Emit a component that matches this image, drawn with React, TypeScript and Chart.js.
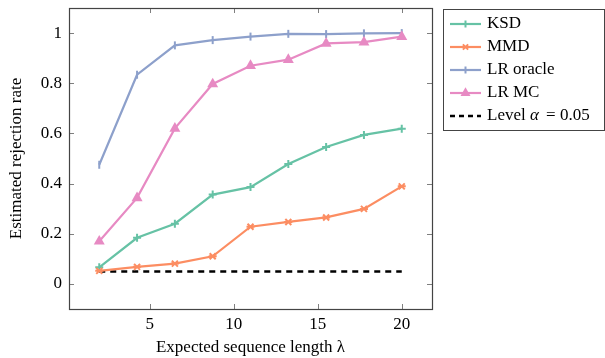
import React, { useEffect, useRef } from "react";
import { Chart, registerables } from "chart.js";

Chart.register(...registerables);

const lambdas = [2, 4.25, 6.5, 8.75, 11, 13.25, 15.5, 17.75, 20];
const ksd = [0.066, 0.184, 0.24, 0.356, 0.386, 0.478, 0.546, 0.594, 0.619];
const mmd = [0.052, 0.068, 0.081, 0.11, 0.228, 0.247, 0.265, 0.299, 0.389];
const lrOracle = [0.475, 0.834, 0.951, 0.972, 0.986, 0.997, 0.996, 0.999, 1.0];
const lrMC = [0.17, 0.343, 0.62, 0.797, 0.87, 0.894, 0.959, 0.964, 0.986];
const levelAlpha = 0.05;
const levelRange = [2, 20];
const xTicks = [5, 10, 15, 20];
const yTicks = [0, 0.2, 0.4, 0.6, 0.8, 1];
const seriesNames = ["KSD", "MMD", "LR oracle", "LR MC", "Level α = 0.05"];

const COLORS = ["#66c2a5", "#fc8d62", "#8da0cb", "#e78ac3", "#000000"];
const FONT = "'Liberation Serif', 'Times New Roman', serif";
const FS = 17;

function drawMarker(ctx: CanvasRenderingContext2D, style: string, x: number, y: number, r: number, color: string) {
  ctx.save();
  ctx.strokeStyle = color;
  ctx.fillStyle = color;
  ctx.lineWidth = 2;
  ctx.setLineDash([]);
  ctx.beginPath();
  if (style === "cross") {
    ctx.moveTo(x - r, y); ctx.lineTo(x + r, y);
    ctx.moveTo(x, y - r); ctx.lineTo(x, y + r);
    ctx.stroke();
  } else if (style === "star") {
    const d = r * 0.75;
    ctx.moveTo(x - d, y - d); ctx.lineTo(x + d, y + d);
    ctx.moveTo(x - d, y + d); ctx.lineTo(x + d, y - d);
    ctx.moveTo(x - r, y); ctx.lineTo(x + r, y);
    ctx.stroke();
  } else if (style === "bar") {
    ctx.moveTo(x, y - r); ctx.lineTo(x, y + r);
    ctx.stroke();
  } else if (style === "triangle") {
    ctx.moveTo(x, y - r * 1.15);
    ctx.lineTo(x + r, y + r * 0.6);
    ctx.lineTo(x - r, y + r * 0.6);
    ctx.closePath();
    ctx.fill();
  }
  ctx.restore();
}

const markerStyles = ["cross", "star", "bar", "triangle", ""];

const markerPlugin = {
  id: "markers",
  afterDatasetsDraw(chart: any) {
    const ctx = chart.ctx;
    chart.data.datasets.forEach((ds: any, i: number) => {
      const st = markerStyles[i];
      if (!st) return;
      const meta = chart.getDatasetMeta(i);
      meta.data.forEach((pt: any) => {
        drawMarker(ctx, st, pt.x, pt.y, st === "triangle" ? 5.5 : 4, COLORS[i]);
      });
    });
  },
};

const framePlugin = {
  id: "frame",
  afterDraw(chart: any) {
    const ctx = chart.ctx;
    const { left, right, top, bottom } = chart.chartArea;
    const xs = chart.scales.x;
    const ys = chart.scales.y;
    ctx.save();
    ctx.strokeStyle = "#7f7f7f";
    ctx.lineWidth = 1;
    const tl = 5;
    ctx.beginPath();
    xTicks.forEach((v) => {
      const px = Math.round(xs.getPixelForValue(v)) + 0.5;
      ctx.moveTo(px, bottom); ctx.lineTo(px, bottom - tl);
      ctx.moveTo(px, top); ctx.lineTo(px, top + tl);
    });
    yTicks.forEach((v) => {
      const py = Math.round(ys.getPixelForValue(v)) + 0.5;
      ctx.moveTo(left, py); ctx.lineTo(left + tl, py);
      ctx.moveTo(right, py); ctx.lineTo(right - tl, py);
    });
    ctx.stroke();
    ctx.strokeStyle = "#444444";
    ctx.lineWidth = 1.2;
    ctx.strokeRect(Math.round(left) + 0.5, Math.round(top) + 0.5, Math.round(right - left), Math.round(bottom - top));
    ctx.restore();

    // legend
    const bx = 443, by = 9, bw = 161, bh = 121;
    ctx.save();
    ctx.fillStyle = "#ffffff";
    ctx.fillRect(bx, by, bw, bh);
    ctx.strokeStyle = "#444444";
    ctx.lineWidth = 1;
    ctx.strokeRect(bx + 0.5, by + 0.5, bw, bh);
    ctx.font = `${FS}px ${FONT}`;
    ctx.textBaseline = "middle";
    ctx.textAlign = "left";
    seriesNames.forEach((name, i) => {
      const y = 24 + i * 23;
      ctx.strokeStyle = COLORS[i];
      ctx.lineWidth = i === 4 ? 2.5 : 2.2;
      ctx.setLineDash(i === 4 ? [5, 4] : []);
      ctx.beginPath();
      ctx.moveTo(450, y);
      ctx.lineTo(481, y);
      ctx.stroke();
      ctx.setLineDash([]);
      if (markerStyles[i]) drawMarker(ctx, markerStyles[i], 465.5, y, markerStyles[i] === "triangle" ? 5 : 3.5, COLORS[i]);
      ctx.fillStyle = "#000";
      if (i === 4) {
        ctx.fillText("Level ", 487, y);
        let w = ctx.measureText("Level ").width;
        ctx.font = `italic ${FS}px ${FONT}`;
        ctx.fillText("α", 487 + w, y);
        w += ctx.measureText("α").width;
        ctx.font = `${FS}px ${FONT}`;
        ctx.fillText(" = 0.05", 487 + w + 3, y);
      } else {
        ctx.fillText(name, 487, y);
      }
    });
    ctx.restore();
  },
};

export default function App() {
  const ref = useRef<HTMLCanvasElement | null>(null);
  useEffect(() => {
    document.body.style.margin = "0";
    if (!ref.current) return;
    const mk = (vals: number[]) => lambdas.map((x, i) => ({ x, y: vals[i] }));
    const line = (label: string, vals: number[], i: number) => ({
      label,
      data: mk(vals),
      borderColor: COLORS[i],
      backgroundColor: COLORS[i],
      borderWidth: 2.2,
      pointRadius: 0,
      tension: 0,
    });
    const chart = new Chart(ref.current, {
      type: "line",
      data: {
        datasets: [
          line(seriesNames[0], ksd, 0),
          line(seriesNames[1], mmd, 1),
          line(seriesNames[2], lrOracle, 2),
          line(seriesNames[3], lrMC, 3),
          {
            label: seriesNames[4],
            data: levelRange.map((x) => ({ x, y: levelAlpha })),
            borderColor: "#000",
            borderWidth: 2.5,
            borderDash: [6, 5],
            pointRadius: 0,
          },
        ],
      },
      options: {
        animation: false,
        responsive: false,
        layout: { padding: { left: 0, right: 173, top: 8, bottom: 0 } },
        plugins: { legend: { display: false }, tooltip: { enabled: false } },
        scales: {
          x: {
            type: "linear",
            min: 0.2,
            max: 21.8,
            grid: { display: false, drawTicks: false },
            border: { display: false },
            afterBuildTicks: (s: any) => { s.ticks = xTicks.map((v) => ({ value: v })); },
            afterFit: (s: any) => { s.height = 49; s.paddingLeft = 0; s.paddingRight = 0; },
            ticks: { padding: 5, color: "#000", font: { family: FONT, size: FS }, maxRotation: 0 },
            title: {
              display: true,
              text: "Expected sequence length λ",
              color: "#000",
              font: { family: FONT, size: FS },
              padding: { top: 0, bottom: 0 },
            },
          },
          y: {
            min: -0.1,
            max: 1.1,
            grid: { display: false, drawTicks: false },
            border: { display: false },
            afterBuildTicks: (s: any) => { s.ticks = yTicks.map((v) => ({ value: v })); },
            afterFit: (s: any) => { s.width = 69; s.paddingTop = 0; s.paddingBottom = 0; },
            ticks: {
              padding: 7,
              color: "#000",
              font: { family: FONT, size: FS },
              callback: (v: any) => String(Math.round(Number(v) * 10) / 10),
            },
            title: {
              display: true,
              text: "Estimated rejection rate",
              color: "#000",
              font: { family: FONT, size: FS },
              padding: { top: 6, bottom: 0 },
            },
          },
        },
      },
      plugins: [markerPlugin, framePlugin],
    } as any);
    return () => chart.destroy();
  }, []);
  return (
    <div style={{ position: "absolute", left: 0, top: 0, width: 605, height: 358, background: "#fff" }}>
      <canvas ref={ref} width={605} height={358} style={{ width: 605, height: 358, display: "block" }} />
    </div>
  );
}
